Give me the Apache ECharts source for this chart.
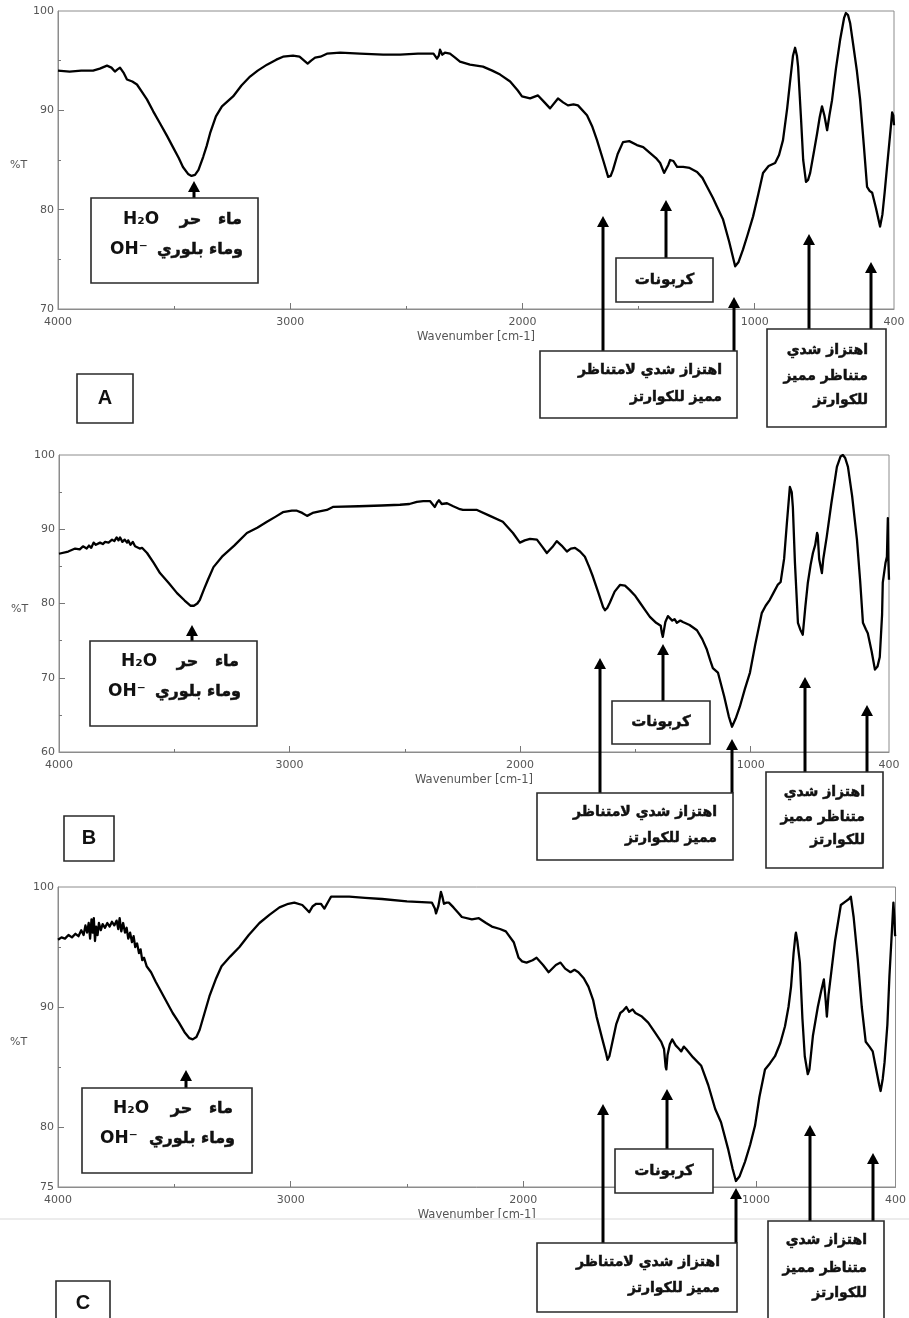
<!DOCTYPE html>
<html>
<head>
<meta charset="utf-8">
<script src="https://cdn.jsdelivr.net/npm/echarts@6.0.0/dist/echarts.min.js"></script>
<style>
html,body{margin:0;padding:0;background:#fff;}
#chart{width:909px;height:1318px;}
</style>
</head>
<body>
<div id="chart"></div>
<script>
// ---------------- DATA ----------------
const xTickLabels = [4000, 3000, 2000, 1000, 400];
const xMajorTicks = [3000, 2000, 1000];
const xMinorTicks = [3500, 2500, 1500];

const yLabelsA = [70, 80, 90, 100];
const yLabelsB = [60, 70, 80, 90, 100];
const yLabelsC = [75, 80, 90, 100];
const yMajorA = [80, 90], yMinorA = [75, 85, 95];
const yMajorB = [70, 80, 90], yMinorB = [65, 75, 85, 95];
const yMajorC = [80, 90], yMinorC = [85, 95];

const wnA = [4000,3950,3900,3849,3820,3789,3770,3755,3745,3733,3718,3703,3680,3660,3640,3617,3590,3561,3530,3505,3480,3462,3440,3425,3410,3395,3375,3360,3345,3320,3294,3270,3246,3210,3173,3140,3100,3060,3031,2988,2960,2940,2925,2910,2893,2870,2842,2785,2700,2600,2527,2450,2383,2368,2360,2355,2345,2334,2312,2290,2269,2226,2170,2130,2096,2053,2020,2002,1967,1933,1905,1881,1847,1825,1804,1780,1761,1722,1700,1679,1650,1631,1620,1610,1590,1567,1540,1507,1480,1450,1425,1407,1390,1382,1372,1364,1350,1334,1308,1280,1248,1225,1205,1180,1162,1136,1110,1084,1070,1050,1030,1007,985,964,940,912,895,878,860,848,835,826,818,813,800,791,779,770,761,745,731,720,710,700,688,678,667,650,632,615,607,598,589,575,560,546,530,516,505,494,478,460,450,440,430,415,408,403,400];
const tA = [94.0,93.9,94.0,94.0,94.2,94.5,94.3,93.9,94.1,94.3,93.8,93.1,92.9,92.6,91.9,91.1,89.9,88.7,87.4,86.3,85.2,84.3,83.6,83.4,83.5,84.0,85.3,86.4,87.7,89.4,90.4,90.9,91.4,92.5,93.4,94.0,94.6,95.1,95.4,95.5,95.4,95.0,94.7,95.0,95.3,95.4,95.7,95.8,95.7,95.6,95.6,95.7,95.7,95.2,95.5,96.1,95.6,95.8,95.7,95.3,94.9,94.6,94.4,94.0,93.6,92.9,92.0,91.4,91.2,91.5,90.8,90.2,91.2,90.8,90.5,90.6,90.5,89.5,88.4,87.0,84.8,83.3,83.4,84.0,85.6,86.8,86.9,86.5,86.3,85.7,85.2,84.7,83.7,83.5,84.5,85.0,84.9,84.3,84.3,84.2,83.8,83.2,82.3,81.2,80.3,79.0,76.8,74.3,74.7,76.0,77.5,79.3,81.5,83.7,84.4,84.7,85.5,87.0,90.2,92.8,95.5,96.3,95.5,94.4,89.0,85.0,82.8,83.0,83.7,85.8,87.7,89.3,90.4,89.5,88.0,89.5,91.0,94.2,97.1,99.3,99.8,99.6,98.8,96.5,94.0,91.1,86.5,82.3,81.9,81.7,80.2,78.3,79.5,81.8,84.3,88.0,89.8,89.5,88.5];

const wnB = [4000,3960,3930,3910,3896,3880,3870,3860,3850,3840,3822,3810,3800,3785,3770,3760,3750,3742,3735,3725,3715,3705,3700,3690,3680,3670,3662,3650,3640,3618,3590,3562,3525,3488,3455,3430,3415,3400,3389,3370,3354,3330,3293,3240,3185,3140,3098,3060,3029,2990,2968,2945,2924,2900,2870,2838,2812,2700,2600,2521,2480,2448,2420,2391,2370,2360,2352,2340,2317,2290,2261,2248,2187,2131,2075,2031,2001,1980,1957,1927,1905,1884,1860,1841,1820,1797,1780,1762,1740,1719,1700,1684,1660,1640,1632,1622,1611,1590,1567,1545,1524,1500,1480,1460,1437,1410,1390,1385,1381,1370,1359,1340,1330,1320,1305,1294,1265,1233,1210,1190,1175,1164,1142,1115,1095,1081,1065,1047,1025,1003,980,952,935,917,900,883,870,865,855,843,830,822,817,808,795,785,774,763,752,740,730,720,712,709,703,691,685,670,650,626,610,600,590,578,560,539,525,513,500,492,475,461,450,440,430,427,415,409,407,405,403,400];
const tB = [86.7,87.0,87.4,87.3,87.7,87.4,87.8,87.5,88.2,87.9,88.2,88.0,88.3,88.2,88.6,88.4,88.9,88.5,88.9,88.3,88.6,88.2,88.5,87.9,88.3,87.7,87.9,87.4,87.5,86.8,85.5,84.1,82.8,81.4,80.4,79.7,79.7,80.0,80.5,82.0,83.2,84.9,86.3,87.8,89.5,90.2,91.0,91.7,92.3,92.5,92.5,92.2,91.8,92.2,92.4,92.6,93.0,93.1,93.2,93.3,93.4,93.7,93.8,93.8,93.0,93.6,93.9,93.4,93.5,93.1,92.7,92.6,92.6,91.8,91.0,89.5,88.2,88.5,88.7,88.6,87.7,86.8,87.6,88.4,87.8,87.0,87.4,87.5,87.0,86.3,84.9,83.6,81.4,79.5,79.1,79.4,80.1,81.6,82.5,82.4,81.8,81.0,80.1,79.2,78.2,77.4,77.0,76.0,75.5,77.5,78.3,77.7,77.9,77.4,77.7,77.5,77.1,76.4,75.2,73.8,72.3,71.3,70.7,67.5,64.8,63.4,64.5,66.1,68.5,70.7,74.5,78.7,79.7,80.5,81.5,82.5,82.9,82.8,86.0,90.8,95.7,95.0,93.0,85.5,77.4,76.5,75.8,79.5,82.8,85.2,86.8,87.9,89.5,89.2,86.0,84.1,86.0,89.0,93.5,98.4,99.8,100.0,99.6,98.4,94.5,88.6,83.0,77.4,76.5,76.0,73.5,71.1,71.5,72.8,78.5,82.8,85.5,86.3,89.0,91.5,86.0,83.2];

const wnC = [4000,3985,3970,3955,3940,3925,3912,3900,3890,3882,3875,3868,3862,3856,3851,3846,3841,3836,3830,3824,3816,3808,3798,3788,3778,3768,3758,3748,3741,3735,3728,3720,3712,3705,3698,3690,3682,3675,3668,3660,3652,3645,3638,3630,3619,3600,3580,3563,3535,3507,3480,3456,3435,3421,3405,3391,3370,3349,3320,3297,3260,3220,3180,3134,3090,3048,3010,2984,2950,2930,2920,2905,2890,2870,2855,2847,2835,2826,2748,2680,2607,2500,2393,2380,2375,2365,2354,2348,2341,2330,2320,2300,2277,2264,2221,2191,2160,2135,2100,2075,2041,2020,2005,1986,1960,1943,1915,1891,1860,1840,1820,1797,1780,1763,1740,1720,1700,1685,1660,1645,1638,1630,1621,1600,1583,1570,1557,1545,1530,1518,1490,1463,1435,1407,1395,1388,1385,1380,1370,1360,1345,1330,1321,1310,1300,1270,1235,1205,1175,1150,1120,1100,1086,1070,1047,1025,1004,985,961,940,918,895,875,860,849,838,830,828,822,811,800,790,777,770,755,734,720,708,700,695,688,678,660,635,614,600,592,580,562,545,528,512,498,485,470,464,455,447,435,426,415,409,405,402,400];
const tC = [95.6,95.8,95.7,96.0,95.8,96.1,95.9,96.4,96.0,96.8,96.2,97.0,95.7,97.3,96.2,97.4,95.5,96.7,96.0,97.0,96.4,96.9,96.6,97.0,96.7,97.1,96.8,97.2,96.5,97.4,96.3,97.0,96.2,96.6,95.7,96.2,95.4,95.9,95.0,95.3,94.5,94.8,93.9,94.1,93.4,92.9,92.1,91.5,90.5,89.5,88.7,87.9,87.4,87.3,87.5,88.1,89.5,90.9,92.4,93.4,94.2,95.0,96.0,97.0,97.7,98.3,98.6,98.7,98.5,98.1,97.9,98.4,98.6,98.6,98.2,98.3,98.9,99.2,99.2,99.1,99.0,98.8,98.7,98.2,97.8,98.4,99.6,99.2,98.6,98.7,98.7,98.3,97.8,97.5,97.3,97.4,97.0,96.7,96.5,96.3,95.4,94.1,93.8,93.7,93.9,94.1,93.5,92.9,93.5,93.7,93.2,92.9,93.1,92.9,92.4,91.7,90.6,89.2,87.3,86.2,85.6,85.9,86.7,88.6,89.5,89.7,90.0,89.6,89.8,89.5,89.2,88.7,87.9,87.1,86.5,85.0,84.8,86.0,86.9,87.3,86.8,86.5,86.3,86.7,86.5,85.8,85.1,83.5,81.5,80.4,78.2,76.5,75.5,75.9,77.1,78.5,80.1,82.5,84.8,85.3,85.9,87.0,88.4,90.0,91.7,94.5,96.0,96.2,95.5,93.7,89.0,85.9,84.4,84.8,87.6,90.0,91.3,92.3,90.5,89.2,91.0,92.6,95.5,98.5,98.8,99.0,99.2,97.5,93.9,90.0,87.1,86.7,86.3,85.0,83.5,83.0,84.0,85.4,88.5,92.6,96.5,98.7,97.5,96.0,95.9];

// annotation texts
const txtWater1 = 'ماء   حر';
const txtWater2 = 'وماء بلوري';
const txtH2O = 'H₂O';
const txtOH = 'OH⁻';
const txtCarb = 'كربونات';
const txtAsym = ['اهتزاز شدي لامتناظر', 'مميز للكوارتز'];
const txtSym = ['اهتزاز شدي', 'متناظر مميز', 'للكوارتز'];
const panelLetters = ['A', 'B', 'C'];
const xName = 'Wavenumber [cm-1]';
const yName = '%T';

// ---------------- LAYOUT ----------------
const grids = [
  {left: 58, top: 11, width: 836, height: 298},
  {left: 59, top: 455, width: 830, height: 297},
  {left: 58, top: 887, width: 840, height: 300}
];
const yRanges = [[70, 100], [60, 100], [75, 100]];
const yLabels = [yLabelsA, yLabelsB, yLabelsC];
const yMajors = [yMajorA, yMajorB, yMajorC];
const yMinors = [yMinorA, yMinorB, yMinorC];
const seriesData = [[wnA, tA], [wnB, tB], [wnC, tC]];

const LABEL_FONT = '"DejaVu Sans", sans-serif';
const AR_FONT = '"DejaVu Sans", "Noto Sans", sans-serif';

const xAxes = [], yAxes = [], series = [];
grids.forEach((g, i) => {
  xAxes.push({
    gridIndex: i, type: 'value', min: 400, max: 4000, inverse: true, position: 'bottom',
    axisLine: {show: true, onZero: false, lineStyle: {color: '#8c8c8c', width: 1}},
    axisTick: {show: true, inside: true, length: 6, customValues: xMajorTicks, lineStyle: {color: '#777'}},
    axisLabel: {show: true, customValues: xTickLabels, margin: 8, color: '#555', fontSize: 11,
      fontFamily: LABEL_FONT, formatter: v => String(v)},
    splitLine: {show: false},
    name: xName, nameLocation: 'middle', nameGap: 22,
    nameTextStyle: {color: '#555', fontSize: 11.5, fontFamily: LABEL_FONT}
  });
  yAxes.push({
    gridIndex: i, type: 'value', min: yRanges[i][0], max: yRanges[i][1], position: 'left',
    axisLine: {show: true, onZero: false, lineStyle: {color: '#8c8c8c', width: 1}},
    axisTick: {show: true, inside: true, length: 6, customValues: yMajors[i], lineStyle: {color: '#777'}},
    axisLabel: {show: true, customValues: yLabels[i], margin: 4, color: '#555', fontSize: 11,
      fontFamily: LABEL_FONT, formatter: v => String(v)},
    splitLine: {show: false},
    name: yName, nameLocation: 'middle', nameRotate: 0, nameGap: 30,
    nameTextStyle: {color: '#555', fontSize: 11, fontFamily: LABEL_FONT, verticalAlign: 'top'}
  });
  series.push({
    type: 'line', xAxisIndex: i, yAxisIndex: i,
    data: seriesData[i][0].map((w, k) => [w, seriesData[i][1][k]]),
    showSymbol: false, smooth: false, silent: true, animation: false,
    lineStyle: {color: '#000', width: 2.3, join: 'round'}, z: 3
  });
});
grids.forEach((g, i) => {
  xAxes.push({
    gridIndex: i, type: 'value', min: 400, max: 4000, inverse: true, position: 'bottom',
    axisLine: {show: false}, axisLabel: {show: false}, splitLine: {show: false},
    axisTick: {show: true, inside: true, length: 3, customValues: xMinorTicks, lineStyle: {color: '#777'}}
  });
  yAxes.push({
    gridIndex: i, type: 'value', min: yRanges[i][0], max: yRanges[i][1], position: 'left',
    axisLine: {show: false}, axisLabel: {show: false}, splitLine: {show: false},
    axisTick: {show: true, inside: true, length: 3, customValues: yMinors[i], lineStyle: {color: '#777'}}
  });
});

// ---------------- ANNOTATIONS (layout, pixels) ----------------
const anno = [
  { // A
    water: {box: [91, 198, 167, 85], arrowX: 194, tip: 181, l1y: 220, l2y: 250, arR1: 242, arR2: 243, h2oL: 123, ohL: 110},
    carb: {box: [616, 258, 97, 44], arrowX: 666, tip: 200},
    asym: {box: [540, 351, 197, 67], arrows: [[603, 216], [734, 297]], textR: 722, ys: [370, 397]},
    sym: {box: [767, 329, 119, 98], arrows: [[809, 234], [871, 262]], textR: 868, ys: [350, 376, 400]},
    letter: {box: [77, 374, 56, 49]}
  },
  { // B
    water: {box: [90, 641, 167, 85], arrowX: 192, tip: 625, l1y: 662, l2y: 692, arR1: 239, arR2: 241, h2oL: 121, ohL: 108},
    carb: {box: [612, 701, 98, 43], arrowX: 663, tip: 644},
    asym: {box: [537, 793, 196, 67], arrows: [[600, 658], [732, 739]], textR: 717, ys: [812, 838]},
    sym: {box: [766, 772, 117, 96], arrows: [[805, 677], [867, 705]], textR: 865, ys: [792, 817, 840]},
    letter: {box: [64, 816, 50, 45]}
  },
  { // C
    water: {box: [82, 1088, 170, 85], arrowX: 186, tip: 1070, l1y: 1109, l2y: 1139, arR1: 233, arR2: 235, h2oL: 113, ohL: 100},
    carb: {box: [615, 1149, 98, 44], arrowX: 667, tip: 1089},
    asym: {box: [537, 1243, 200, 69], arrows: [[603, 1104], [736, 1188]], textR: 720, ys: [1262, 1288]},
    sym: {box: [768, 1221, 116, 110], arrows: [[810, 1125], [873, 1153]], textR: 867, ys: [1240, 1268, 1293]},
    letter: {box: [56, 1281, 54, 45]}
  }
];

const gfx = [];
function rect(b) {
  gfx.push({type: 'rect', z: 100, shape: {x: b[0], y: b[1], width: b[2], height: b[3]},
    style: {fill: '#fff', stroke: '#2a2a2a', lineWidth: 1.6}});
}
function arrow(x, yFrom, tip) {
  gfx.push({type: 'line', z: 99, shape: {x1: x, y1: yFrom, x2: x, y2: tip + 8},
    style: {stroke: '#000', lineWidth: 3}});
  gfx.push({type: 'polygon', z: 99, shape: {points: [[x - 6, tip + 11], [x + 6, tip + 11], [x, tip]]},
    style: {fill: '#000'}});
}
function text(str, x, y, align, font, strokeW) {
  const st = {text: str, font: font, fill: '#111', align: align, textAlign: align,
    verticalAlign: 'middle', textVerticalAlign: 'middle'};
  if (strokeW) { st.stroke = '#111'; st.lineWidth = strokeW; }
  gfx.push({type: 'text', z: 101, x: x, y: y, style: st});
}
anno.forEach((a, i) => {
  const w = a.water;
  arrow(w.arrowX, w.box[1], w.tip);
  rect(w.box);
  text(txtWater1, w.arR1, w.l1y, 'right', 'bold 16px ' + AR_FONT, 0.5);
  text(txtWater2, w.arR2, w.l2y, 'right', 'bold 16px ' + AR_FONT, 0.5);
  text(txtH2O, w.h2oL, w.l1y, 'left', 'bold 17px "DejaVu Sans", sans-serif');
  text(txtOH, w.ohL, w.l2y, 'left', 'bold 17px "DejaVu Sans", sans-serif');
  const c = a.carb;
  arrow(c.arrowX, c.box[1], c.tip);
  rect(c.box);
  text(txtCarb, c.box[0] + c.box[2] / 2, c.box[1] + c.box[3] / 2, 'center', 'bold 15px ' + AR_FONT, 0.5);
  const s = a.asym;
  s.arrows.forEach(ar => arrow(ar[0], s.box[1], ar[1]));
  rect(s.box);
  txtAsym.forEach((t, k) => text(t, s.textR, s.ys[k], 'right', 'bold 14px ' + AR_FONT, 0.5));
  const y = a.sym;
  y.arrows.forEach(ar => arrow(ar[0], y.box[1], ar[1]));
  rect(y.box);
  txtSym.forEach((t, k) => text(t, y.textR, y.ys[k], 'right', 'bold 14px ' + AR_FONT, 0.5));
  const L = a.letter.box;
  rect(L);
  text(panelLetters[i], L[0] + L[2] / 2, L[1] + L[3] / 2, 'center', 'bold 20px "Liberation Sans", Arial, sans-serif');
});
gfx.push({type: 'line', z: 1, shape: {x1: 0, y1: 1219, x2: 909, y2: 1219}, style: {stroke: '#ececec', lineWidth: 2}});

const chart = echarts.init(document.getElementById('chart'), null, {renderer: 'canvas'});
chart.setOption({
  backgroundColor: '#fff',
  animation: false,
  grid: grids.map(g => Object.assign({show: true, borderColor: '#8c8c8c', borderWidth: 1, backgroundColor: 'transparent', containLabel: false}, g)),
  xAxis: xAxes,
  yAxis: yAxes,
  series: series,
  graphic: {elements: gfx}
});
</script>
</body>
</html>
